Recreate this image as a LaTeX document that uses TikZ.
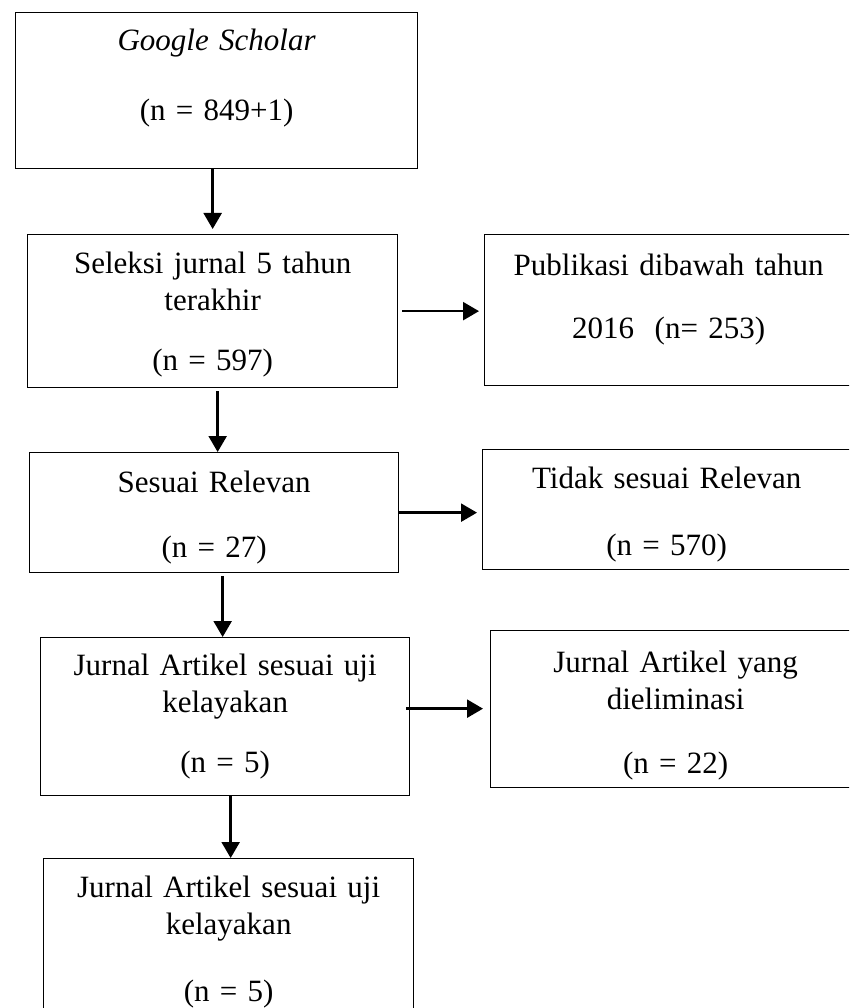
\documentclass[tikz,border=0pt]{standalone}
\usepackage{fontspec}
\setmainfont{Liberation Serif}
\usepackage{tikz}
\usetikzlibrary{arrows.meta, calc}

\begin{document}
\begin{tikzpicture}[x=1pt, y=-1pt,
                stagebox/.style={draw=black, line width=1.3pt, rectangle, anchor=north west, align=center, inner xsep=4pt, inner ysep=0pt, font=\fontsize{31}{37}\selectfont},
                flow/.style={line width=2.4pt, -{Triangle[width=18pt, length=16pt]}}
            ]

            \useasboundingbox (0,0) rectangle (849,1008);
            \clip (0,0) rectangle (849,1008);

            % Kotak
            \node[stagebox, text width=394pt, text height=38pt, text depth=118pt] (b1) at (15,12) {\textit{Google Scholar}\\[33pt](n = 849+1)};
            \node[stagebox, text width=362pt, text height=39pt, text depth=114pt] (b2) at (27,234) {Seleksi jurnal 5 tahun\\terakhir\\[23pt](n = 597)};
            \node[stagebox, text width=360pt, text height=41pt, text depth=110pt] (b3) at (484,234) {Publikasi dibawah tahun\\[26pt]2016\ \ (n= 253)};
            \node[stagebox, text width=361pt, text height=40pt, text depth=80pt] (b4) at (29,452) {Sesuai Relevan\\[28pt](n = 27)};
            \node[stagebox, text width=360pt, text height=39pt, text depth=81pt] (b5) at (482,449) {Tidak sesuai Relevan\\[30pt](n = 570)};
            \node[stagebox, text width=361pt, text height=38pt, text depth=120pt] (b6) at (40,637) {Jurnal Artikel sesuai uji\\kelayakan\\[23pt](n = 5)};
            \node[stagebox, text width=362pt, text height=42pt, text depth=115pt] (b7) at (490,630) {Jurnal Artikel yang\\dieliminasi\\[27pt](n = 22)};
            \node[stagebox, text width=362pt, text height=39pt, text depth=143pt] (b8) at (43,858) {Jurnal Artikel sesuai uji\\kelayakan\\[30pt](n = 5)};

            % Panah
            \draw[flow, shorten >=5pt] ([xshift=-4pt]b1.south) -- ([xshift=-4pt]b1.south |- b2.north);
            \draw[flow, shorten <=3pt] ([xshift=5pt]b2.south) -- ([xshift=5pt]b2.south |- b4.north);
            \draw[flow, shorten <=3pt] ([xshift=8.5pt]b4.south) -- ([xshift=8.5pt]b4.south |- b6.north);
            \draw[flow] ([xshift=5.5pt]b6.south) -- ([xshift=5.5pt]b6.south |- b8.north);
            \draw[flow, shorten <=4pt, shorten >=5pt] (b2.east) -- (b2.east -| b3.west);
            \draw[flow, shorten >=5pt] (b4.east) -- (b4.east -| b5.west);
            \draw[flow, shorten >=7pt] ([shift={(-4pt,8pt)}]b6.east) -- ([yshift=8pt]b6.east -| b7.west);

        \end{tikzpicture}
\end{document}
